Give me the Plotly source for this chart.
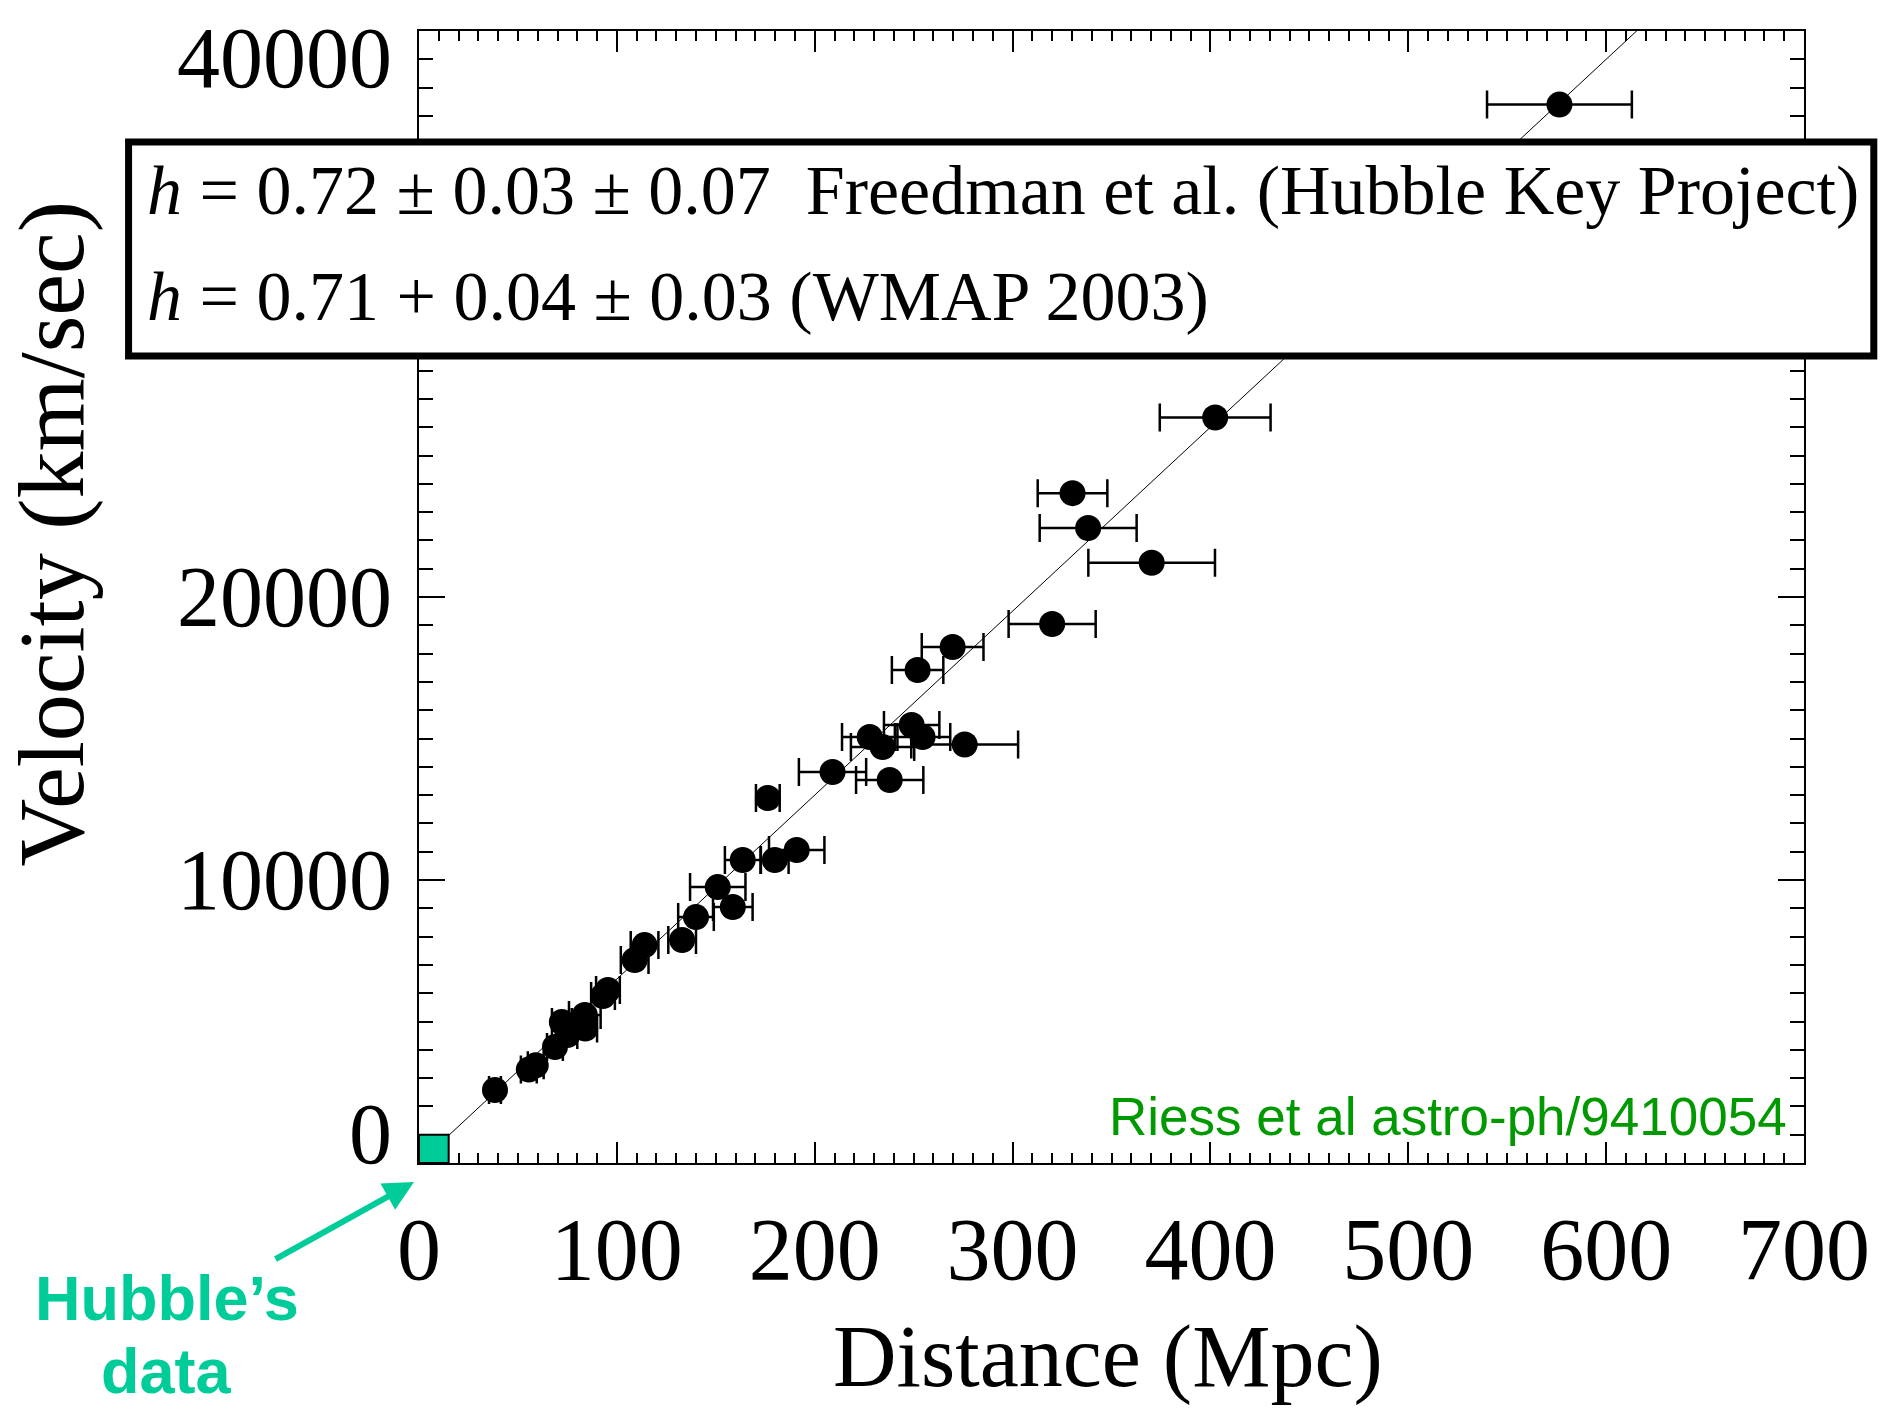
import numpy as np
import plotly.graph_objects as go

# Type Ia supernova Hubble diagram (Riess et al. astro-ph/9410054)
distance_mpc = [38.4, 55.5, 59.0, 68.7, 72.2, 75.0, 83.8, 84.0, 93.0, 95.5,
                109.0, 114.0, 133.0, 140.0, 151.0, 158.6, 163.6, 176.3, 179.8, 190.9,
                209.0, 237.9, 227.8, 234.3, 249.0, 254.5, 275.8, 252.0, 269.7, 320.0,
                370.3, 338.2, 330.3, 402.4, 576.4]
velocity_kms = [2580, 3300, 3450, 4099, 4982, 4523, 5230, 4750, 5900, 6113,
                7173, 7700, 7880, 8690, 9750, 9046, 10707, 12898, 10707, 11060,
                13816, 13533, 15053, 14700, 15477, 15053, 14790, 17420, 18233, 19047,
                21210, 22440, 23670, 26343, 37400]
distance_err = [3, 4, 4, 4, 5, 5, 8, 6, 6, 6,
                7, 7, 7, 9, 14, 10, 9, 6, 7, 14,
                17, 17, 14, 16, 14, 14, 27, 13, 15.6, 22,
                32, 24.5, 17.6, 28, 36.6]

# Hubble constant of the fitted line (km/s/Mpc)
H0 = 65.0

# Extent of Hubble's original 1929 data
hubble_box_dist = [0, 15]
hubble_box_vel = [0, 1000]

x_tick_vals = [0, 100, 200, 300, 400, 500, 600, 700]
x_tick_text = ["0", "100", "200", "300", "400", "500", "600", "700"]
y_tick_vals = [0, 10000, 20000, 40000]
y_tick_text = ["0", "10000", "20000", "40000"]

SERIF = "Liberation Serif, Times New Roman, serif"
SANS = "Liberation Sans, Arial, sans-serif"
GREEN_DARK = "#009900"
TEAL = "#00CC99"

fig = go.Figure()

fit_x = np.array([0.0, 700.0])
fig.add_trace(go.Scatter(
    x=fit_x, y=H0 * fit_x, mode="lines",
    line=dict(color="black", width=1), hoverinfo="skip", showlegend=False,
))

fig.add_trace(go.Scatter(
    x=distance_mpc, y=velocity_kms, mode="markers",
    marker=dict(color="black", size=26, line=dict(width=0)),
    error_x=dict(type="data", array=distance_err, visible=True,
                 color="black", thickness=2.5, width=14),
    showlegend=False,
))

# Hubble's data region
fig.add_shape(type="rect", xref="x", yref="y",
              x0=hubble_box_dist[0], x1=hubble_box_dist[1],
              y0=hubble_box_vel[0], y1=hubble_box_vel[1],
              fillcolor=TEAL, line=dict(color="black", width=2), layer="above")

# Box with the measured values of h
fig.add_shape(type="rect", xref="paper", yref="paper",
              x0=-0.2097, x1=1.0504, y0=0.7129, y1=0.9019,
              fillcolor="white", line=dict(color="black", width=7), layer="above")

annotations = [
    dict(text="<i>h</i> = 0.72 ± 0.03 ± 0.07  Freedman et al. (Hubble Key Project)",
         x=-0.198, y=0.8595, xanchor="left", yanchor="middle",
         font=dict(family=SERIF, size=70, color="black")),
    dict(text="<i>h</i> = 0.71 + 0.04 ± 0.03 (WMAP 2003)",
         x=-0.198, y=0.7659, xanchor="left", yanchor="middle",
         font=dict(family=SERIF, size=70, color="black")),
    dict(text="Velocity (km/sec)", x=-0.266, y=0.5557, textangle=-90,
         xanchor="center", yanchor="middle",
         font=dict(family=SERIF, size=94, color="black")),
    dict(text="Distance (Mpc)", x=0.4978, y=-0.171,
         xanchor="center", yanchor="middle",
         font=dict(family=SERIF, size=88, color="black")),
    dict(text="Riess et al astro-ph/9410054", x=0.9895, y=0.0415,
         xanchor="right", yanchor="middle",
         font=dict(family=SANS, size=53, color=GREEN_DARK)),
    dict(text="<b>Hubble’s</b>", x=-0.1823, y=-0.119,
         xanchor="center", yanchor="middle",
         font=dict(family=SANS, size=63, color=TEAL)),
    dict(text="<b>data</b>", x=-0.1823, y=-0.184,
         xanchor="center", yanchor="middle",
         font=dict(family=SANS, size=63, color=TEAL)),
    dict(text="", x=-0.0036, y=-0.0168, ax=-140, ay=78,
         showarrow=True, arrowhead=2, arrowsize=1, arrowwidth=6,
         arrowcolor=TEAL),
]
for a in annotations:
    a.setdefault("xref", "paper")
    a.setdefault("yref", "paper")
    a.setdefault("showarrow", False)
    fig.add_annotation(**a)

# y tick labels; the end labels sit just inside the frame
y_shift = {0: 29, 40000: -27}
for v, t in zip(y_tick_vals, y_tick_text):
    fig.add_annotation(text=t, xref="paper", yref="y", x=0, y=v,
                       xanchor="right", yanchor="middle", xshift=-25,
                       yshift=y_shift.get(v, 0), showarrow=False,
                       font=dict(family=SERIF, size=86, color="black"))

fig.update_layout(
    width=1882, height=1408,
    margin=dict(l=419, r=75, t=31, b=245),
    paper_bgcolor="white", plot_bgcolor="white",
    showlegend=False,
    xaxis=dict(
        range=[0, 700], tickvals=x_tick_vals, ticktext=x_tick_text,
        ticks="inside", ticklen=21, tickwidth=2, tickcolor="black",
        showline=True, linewidth=2, linecolor="black", mirror="ticks",
        showgrid=False, zeroline=False,
        tickfont=dict(family=SERIF, size=88, color="black"),
        ticklabelstandoff=8,
        minor=dict(dtick=10, ticks="inside", ticklen=10, tickwidth=1.5,
                   tickcolor="black", showgrid=False),
    ),
    yaxis=dict(
        range=[0, 40000], dtick=10000,
        ticks="inside", ticklen=26, tickwidth=2, tickcolor="black",
        showline=True, linewidth=2, linecolor="black", mirror="ticks",
        showgrid=False, zeroline=False, showticklabels=False,
        minor=dict(dtick=1000, ticks="inside", ticklen=14, tickwidth=1.5,
                   tickcolor="black", showgrid=False),
    ),
)

fig.write_html("out.html", config={"displayModeBar": False})
